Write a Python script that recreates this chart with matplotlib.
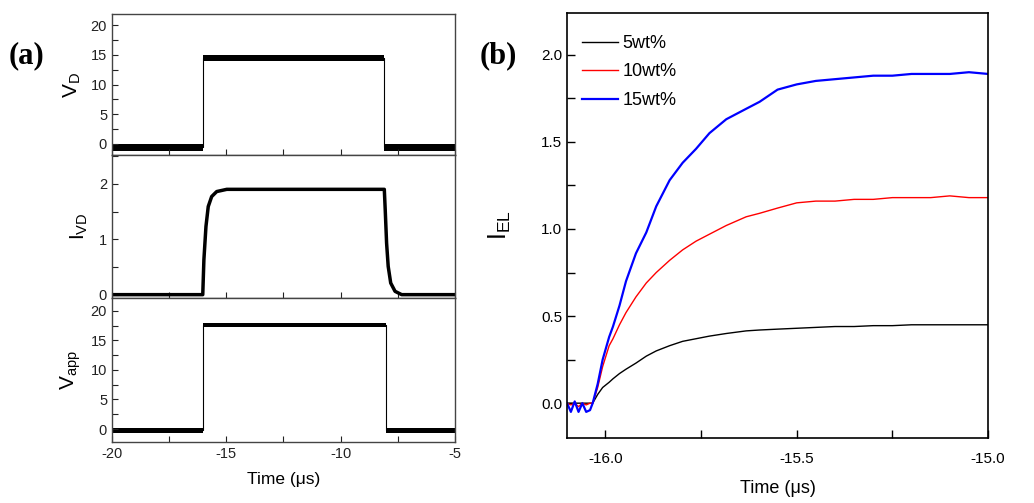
import matplotlib
matplotlib.use('Agg')
import matplotlib.pyplot as plt
from matplotlib.ticker import MultipleLocator, FormatStrFormatter

plt.rcParams['font.family'] = ['Liberation Sans', 'DejaVu Sans']
plt.rcParams['mathtext.default'] = 'regular'
plt.rcParams['axes.unicode_minus'] = False

# ---- panel (a): pulse traces ----
# V_D: noisy band (lower/upper edge) around a rectangular pulse
t_vd = [-20.0, -16.02, -16.02, -8.1, -8.1, -5.0]
vd_lo = [-1.3, -1.3, 14.0, 14.0, -1.3, -1.3]
vd_hi = [0.0, 0.0, 14.95, 14.95, 0.0, 0.0]
vd_mid = [-0.6, -0.6, 14.5, 14.5, -0.6, -0.6]

# I_VD: current through the device
t_ivd = [-20.0, -16.03, -15.98, -15.89, -15.79, -15.64, -15.42, -14.98, -12.0,
         -8.09, -8.05, -7.99, -7.92, -7.81, -7.62, -7.33, -5.0]
ivd = [0.0, 0.0, 0.63, 1.23, 1.59, 1.77, 1.86, 1.90, 1.90,
       1.90, 1.53, 0.93, 0.51, 0.21, 0.06, 0.0, 0.0]

# V_app: applied voltage band
t_vapp = [-20.0, -16.02, -16.02, -8.03, -8.03, -5.0]
vapp_lo = [-0.6, -0.6, 17.3, 17.3, -0.6, -0.6]
vapp_hi = [0.2, 0.2, 17.9, 17.9, 0.2, 0.2]
vapp_mid = [-0.2, -0.2, 17.6, 17.6, -0.2, -0.2]

# ---- panel (b): EL rise for three concentrations ----
t_el = [-16.10, -16.09, -16.08, -16.07, -16.06, -16.05, -16.04, -16.033, -16.02,
        -16.007, -15.99, -15.98, -15.963, -15.946, -15.92, -15.893, -15.867,
        -15.832, -15.798, -15.763, -15.728, -15.684, -15.632, -15.597, -15.55,
        -15.50, -15.45, -15.40, -15.35, -15.30, -15.25, -15.20, -15.15, -15.10,
        -15.05, -15.00]
el_5 = [0.0, 0.0, 0.0, 0.0, 0.0, 0.0, 0.0, 0.0, 0.05,
        0.09, 0.12, 0.14, 0.17, 0.195, 0.23, 0.27, 0.30,
        0.33, 0.355, 0.37, 0.385, 0.40, 0.415, 0.42, 0.425,
        0.43, 0.435, 0.44, 0.44, 0.445, 0.445, 0.45, 0.45, 0.45,
        0.45, 0.45]
el_10 = [0.0, -0.01, 0.0, -0.02, 0.0, -0.01, 0.0, 0.0, 0.09,
         0.21, 0.33, 0.37, 0.45, 0.52, 0.61, 0.69, 0.75,
         0.82, 0.88, 0.93, 0.97, 1.02, 1.07, 1.09, 1.12,
         1.15, 1.16, 1.16, 1.17, 1.17, 1.18, 1.18, 1.18, 1.19,
         1.18, 1.18]
el_15 = [0.0, -0.05, 0.01, -0.05, 0.0, -0.05, -0.04, 0.0, 0.11,
         0.25, 0.38, 0.44, 0.56, 0.70, 0.86, 0.98, 1.13,
         1.28, 1.38, 1.46, 1.55, 1.63, 1.69, 1.73, 1.80,
         1.83, 1.85, 1.86, 1.87, 1.88, 1.88, 1.89, 1.89, 1.89,
         1.90, 1.89]
labels = ['5wt%', '10wt%', '15wt%']
colors = ['black', 'red', 'blue']

fig = plt.figure(figsize=(10.34, 5.03), dpi=100)

left_x, left_w = 0.1083, 0.3317
ax1 = fig.add_axes([left_x, 0.6918, left_w, 0.2803])
ax2 = fig.add_axes([left_x, 0.4076, left_w, 0.2843], sharex=ax1)
ax3 = fig.add_axes([left_x, 0.1213, left_w, 0.2863], sharex=ax1)
axb = fig.add_axes([0.5484, 0.1292, 0.4072, 0.845])

spine_col = '#444444'
for ax in (ax1, ax2, ax3):
    for s in ax.spines.values():
        s.set_color(spine_col)
        s.set_linewidth(1.0)
    ax.tick_params(which='both', direction='in', length=4, width=0.8,
                   labelsize=10.5, colors='#222222', top=False, right=False)
    ax.xaxis.set_major_locator(MultipleLocator(5))
    ax.xaxis.set_minor_locator(MultipleLocator(2.5))

ax1.fill_between(t_vd, vd_lo, vd_hi, color='black', lw=0)
ax1.plot(t_vd, vd_mid, color='black', lw=0.8)
ax1.set_ylim(-1.9, 21.9)
ax1.yaxis.set_major_locator(MultipleLocator(5))
ax1.yaxis.set_minor_locator(MultipleLocator(2.5))
ax1.set_ylabel('V$_D$', fontsize=15)
ax1.yaxis.set_label_coords(-0.085, 0.5)
ax1.tick_params(labelbottom=False)

ax2.plot(t_ivd, ivd, color='black', lw=2.5)
ax2.set_ylim(-0.06, 2.52)
ax2.yaxis.set_major_locator(MultipleLocator(1))
ax2.yaxis.set_minor_locator(MultipleLocator(0.5))
ax2.set_ylabel('I$_{VD}$', fontsize=15)
ax2.yaxis.set_label_coords(-0.064, 0.5)
ax2.tick_params(labelbottom=False)

ax3.fill_between(t_vapp, vapp_lo, vapp_hi, color='black', lw=0)
ax3.plot(t_vapp, vapp_mid, color='black', lw=0.8)
ax3.set_ylim(-2.2, 22.2)
ax3.yaxis.set_major_locator(MultipleLocator(5))
ax3.yaxis.set_minor_locator(MultipleLocator(2.5))
ax3.set_ylabel('V$_{app}$', fontsize=15)
ax3.yaxis.set_label_coords(-0.085, 0.5)
ax3.set_xlim(-20, -5)
ax3.set_xlabel('Time (μs)', fontsize=12.5, labelpad=8)

# panel (b)
for y, lab, c in zip([el_5, el_10, el_15], labels, colors):
    lw = 1.6 if c == 'blue' else 1.0
    axb.plot(t_el, y, color=c, lw=lw, label=lab)

axb.set_xlim(-16.1, -15.0)
axb.set_ylim(-0.2, 2.24)
axb.xaxis.set_major_locator(MultipleLocator(0.5))
axb.xaxis.set_minor_locator(MultipleLocator(0.25))
axb.yaxis.set_major_locator(MultipleLocator(0.5))
axb.yaxis.set_minor_locator(MultipleLocator(0.25))
axb.xaxis.set_major_formatter(FormatStrFormatter('%.1f'))
axb.yaxis.set_major_formatter(FormatStrFormatter('%.1f'))
axb.tick_params(which='both', direction='in', length=6, width=1,
                labelsize=11, top=False, right=False)
axb.tick_params(axis='x', pad=10)
for s in axb.spines.values():
    s.set_linewidth(1.2)
axb.set_ylabel('I$_{EL}$', fontsize=18)
axb.yaxis.set_label_coords(-0.128, 0.5)
axb.set_xlabel('Time (μs)', fontsize=13, labelpad=10)

axb.legend(loc='upper left', bbox_to_anchor=(0.035, 0.948), frameon=False,
           fontsize=13, handlelength=2.0, handletextpad=0.25,
           labelspacing=0.63, borderpad=0, borderaxespad=0)

fig.text(0.008, 0.875, '(a)', fontsize=22, fontweight='bold',
         family='Liberation Serif')
fig.text(0.464, 0.875, '(b)', fontsize=22, fontweight='bold',
         family='Liberation Serif')

plt.savefig('out.png', dpi=100)
